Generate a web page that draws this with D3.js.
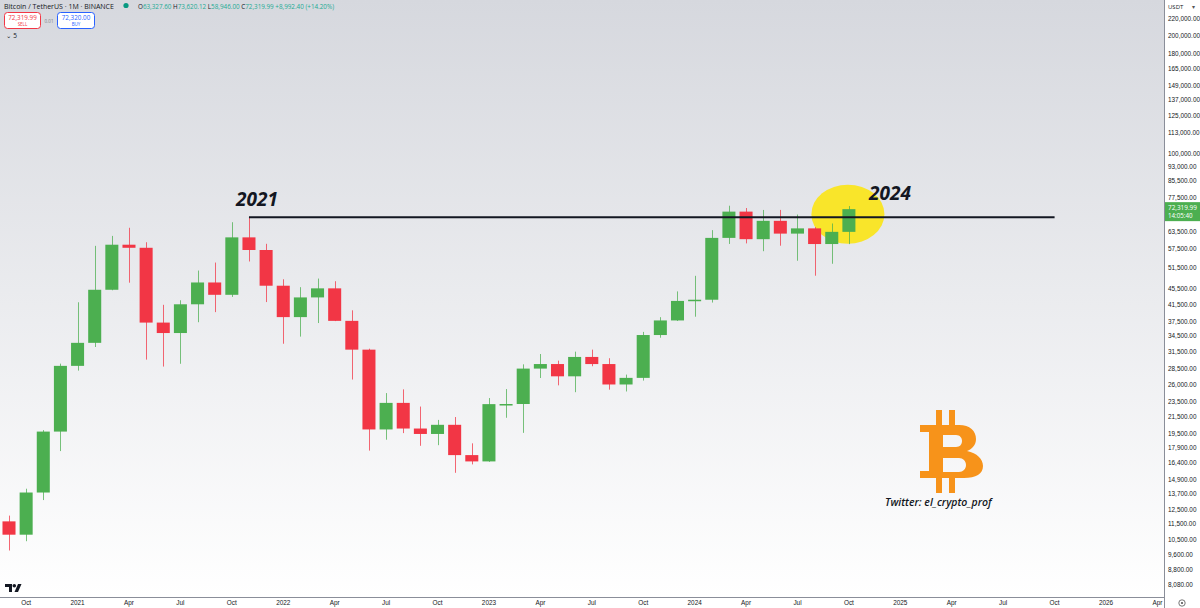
<!DOCTYPE html>
<html lang="en">
<head>
<meta charset="UTF-8">
<title>Bitcoin / TetherUS 1M</title>
<script src="https://d3js.org/d3.v7.min.js"></script>
<style>
  body { margin: 0; padding: 0; background: #fff; }
  svg { display: block; font-family: "Open Sans", "DejaVu Sans", sans-serif; }
  .axis text { fill: #131722; font-size: 6.4px; }
  .axis path, .axis line { display: none; }
</style>
</head>
<body>
<script>
// monthly candles, Sep 2020 .. Oct 2024
var firstMonth = new Date(2020, 8, 1);
var opens  = [11650, 10777, 13791, 19695, 28923, 33092, 45135, 58740, 57694, 37253, 35045, 41461, 47100, 43824, 61318, 56950,
              46216, 38466, 43160, 45510, 37630, 31800, 19942, 23293, 20050, 19423, 20490, 17164,
              16542, 23125, 23141, 28465, 29233, 27210, 30472, 29232, 25940, 26962, 34639, 37724,
              42283, 42580, 61130, 71280, 60672, 67540, 62678, 64628, 58974, 63327];
var highs  = [12050, 14100, 19863, 29300, 41950, 58352, 61844, 64854, 59592, 41330, 42448, 50500, 52920, 67000, 69000, 59053,
              47990, 45821, 48189, 47444, 40023, 31982, 24668, 25211, 22799, 21085, 21446, 18387,
              23960, 25250, 29184, 31000, 29820, 31431, 31804, 30244, 27483, 35280, 38450, 44700,
              48970, 63969, 73777, 72797, 71980, 71997, 70079, 65100, 66498, 73620];
var lows   = [9825, 10374, 13195, 17572, 28130, 32296, 45000, 47044, 30000, 28805, 29278, 37332, 39600, 43283, 53256, 42000,
              32917, 34322, 37155, 37578, 26700, 17622, 18781, 19520, 18125, 18190, 15476, 16256,
              16499, 21351, 19549, 26942, 25811, 24797, 28861, 25166, 24901, 26538, 34097, 37600,
              38555, 41884, 59005, 59191, 56552, 58402, 53485, 49000, 52550, 58946];
var closes = [10777, 13791, 19695, 28923, 33092, 45135, 58740, 57694, 37253, 35045, 41461, 47100, 43824, 61318, 56950, 46216,
              38466, 43160, 45510, 37630, 31800, 19942, 23293, 20050, 19423, 20490, 17164, 16542,
              23125, 23141, 28465, 29233, 27210, 30472, 29232, 25940, 26962, 34639, 37724, 42283,
              42580, 61130, 71280, 60672, 67540, 62678, 64628, 58974, 63327, 72320];
var totalMonths = 68; // Sep 2020 .. Apr 2026 on the time axis
var priceTicks = [220000, 200000, 180000, 165000, 149000, 137000, 125000, 113000, 100000, 93000, 85500, 77500,
                  63500, 57500, 51500, 45500, 41500, 37500, 34500, 31500, 28500, 26000, 23500, 21500, 19500,
                  17900, 16400, 14900, 13700, 12500, 11500, 10500, 9600, 8800, 8080];
var monthNames = ["Jan", "Feb", "Mar", "Apr", "May", "Jun", "Jul", "Aug", "Sep", "Oct", "Nov", "Dec"];
var resistance = 69000;      // Nov 2021 high
var lastPrice = 72319.99;

var width = 1200, height = 608,
    plotW = 1164, plotH = 597;

var months = d3.range(totalMonths).map(function (i) { return d3.timeMonth.offset(firstMonth, i); });
var key = d3.timeFormat("%Y-%m");

var candles = opens.map(function (o, i) {
  return { date: months[i], open: o, high: highs[i], low: lows[i], close: closes[i] };
});

var x = d3.scaleBand()
  .domain(months.map(key))
  .range([0.43, 1166])
  .paddingInner(0.24)
  .paddingOuter(0.12);

var y = d3.scaleLog()
  .domain([7530, 245700])
  .range([plotH - 1, 0]);

var svg = d3.select("body").append("svg")
  .attr("width", width)
  .attr("height", height);

var defs = svg.append("defs");
var grad = defs.append("linearGradient").attr("id", "bg").attr("x1", 0).attr("y1", 0).attr("x2", 0).attr("y2", 1);
grad.append("stop").attr("offset", "0%").attr("stop-color", "#d6d8de");
grad.append("stop").attr("offset", "100%").attr("stop-color", "#ffffff");

svg.append("rect").attr("width", width).attr("height", height).attr("fill", "#fff");
svg.append("rect").attr("width", plotW).attr("height", plotH).attr("fill", "url(#bg)");

// highlight around the current candle
var cx = x(key(months[49])) + x.bandwidth() / 2;
svg.append("ellipse")
  .attr("cx", cx - 1).attr("cy", y(lastPrice) + 5)
  .attr("rx", 36.5).attr("ry", 29.5)
  .attr("fill", "#f9e52a");

// candles
var up = "#4caf50", down = "#f23645";
var g = svg.append("g");
var c = g.selectAll("g.candle").data(candles).enter().append("g").attr("class", "candle");
c.append("line")
  .attr("x1", function (d) { return Math.round(x(key(d.date)) + x.bandwidth() / 2) + 0.5; })
  .attr("x2", function (d) { return Math.round(x(key(d.date)) + x.bandwidth() / 2) + 0.5; })
  .attr("y1", function (d) { return y(d.high); })
  .attr("y2", function (d) { return y(d.low); })
  .attr("stroke", function (d) { return d.close >= d.open ? up : down; })
  .attr("stroke-opacity", 0.75)
  .attr("stroke-width", 1);
c.append("rect")
  .attr("x", function (d) { return x(key(d.date)); })
  .attr("width", x.bandwidth())
  .attr("y", function (d) { return y(Math.max(d.open, d.close)); })
  .attr("height", function (d) { return Math.max(1.5, Math.abs(y(d.open) - y(d.close))); })
  .attr("fill", function (d) { return d.close >= d.open ? up : down; });

// horizontal resistance line from the 2021 top
svg.append("line")
  .attr("x1", x(key(months[14])) + x.bandwidth() / 2)
  .attr("x2", x(key(months[61])) + x.bandwidth() / 2)
  .attr("y1", y(resistance)).attr("y2", y(resistance))
  .attr("stroke", "#131722").attr("stroke-width", 2);

svg.append("text").attr("x", 236).attr("y", 206)
  .attr("font-size", 19).attr("font-weight", 700).attr("font-style", "italic")
  .attr("fill", "#131722").text("2021");
svg.append("text").attr("x", 869).attr("y", 200)
  .attr("font-size", 19).attr("font-weight", 700).attr("font-style", "italic")
  .attr("fill", "#131722").text("2024");

// bitcoin logo
var logo = svg.append("g").attr("transform", "translate(920,410)").attr("fill", "#f7931a");
logo.append("path")
  .attr("fill-rule", "evenodd")
  .attr("d", "M0,15 H39 C50,15 56,21 56,29 C56,35 52,39 47,41 C57,43 63,49 63,56 C63,64 56,68 44,68 H0 V61 H9 V22 H0 Z " +
             "M23,25 H36 C40,25 42,28 42,31 C42,34 40,37 36,37 H23 Z " +
             "M23,48 H39 C43,48 46,51 46,55 C46,59 43,62 39,62 H23 Z");
[[16, 0], [29, 0], [16, 67], [29, 67]].forEach(function (p) {
  logo.append("rect").attr("x", p[0]).attr("y", p[1]).attr("width", 6).attr("height", 16);
});
svg.append("text").attr("x", 885).attr("y", 506)
  .attr("font-size", 10.5).attr("font-weight", 600).attr("font-style", "italic")
  .attr("fill", "#131722").text("Twitter: el_crypto_prof");

// axes
svg.append("rect").attr("x", plotW).attr("y", 0).attr("width", width - plotW).attr("height", height).attr("fill", "#fff");
svg.append("rect").attr("x", 0).attr("y", plotH).attr("width", width).attr("height", height - plotH).attr("fill", "#fff");
svg.append("line").attr("x1", plotW + 0.5).attr("x2", plotW + 0.5).attr("y1", 0).attr("y2", height).attr("stroke", "#8a8e99");
svg.append("line").attr("x1", 0).attr("x2", plotW).attr("y1", plotH + 0.5).attr("y2", plotH + 0.5).attr("stroke", "#8a8e99");

var yAxis = d3.axisRight(y).tickValues(priceTicks).tickSize(0).tickPadding(4)
  .tickFormat(d3.format(",.2f"));
svg.append("g").attr("class", "axis").attr("transform", "translate(" + plotW + ",0)").call(yAxis);

var quarterKeys = months.filter(function (m) { return m.getMonth() % 3 === 0; }).map(key);
var xAxis = d3.axisBottom(x).tickValues(quarterKeys).tickSize(0).tickPadding(3)
  .tickFormat(function (k) {
    var p = k.split("-");
    return p[1] === "01" ? p[0] : monthNames[+p[1] - 1];
  });
svg.append("g").attr("class", "axis").attr("transform", "translate(0," + plotH + ")").call(xAxis);

// current price label
svg.append("rect").attr("x", plotW + 1).attr("y", y(lastPrice) - 7).attr("width", 35).attr("height", 19).attr("fill", up);
svg.append("text").attr("x", plotW + 4).attr("y", y(lastPrice) + 1).attr("font-size", 6.4).attr("fill", "#fff")
  .text(d3.format(",.2f")(lastPrice));
svg.append("text").attr("x", plotW + 4).attr("y", y(lastPrice) + 9).attr("font-size", 6.2).attr("fill", "#fff")
  .text("14:05:40");

svg.append("text").attr("x", 1168).attr("y", 9).attr("font-size", 6).attr("fill", "#131722").text("USDT");
svg.append("text").attr("x", 1192).attr("y", 9).attr("font-size", 6).attr("fill", "#555").text("▾");
svg.append("circle").attr("cx", 1182).attr("cy", 603).attr("r", 3.2).attr("fill", "none").attr("stroke", "#555").attr("stroke-width", 0.8);
svg.append("circle").attr("cx", 1182).attr("cy", 603).attr("r", 1.1).attr("fill", "#555");

// TradingView mark
svg.append("path").attr("fill", "#131722")
  .attr("d", "M5,584 H12 V592 H9 V587 H5 Z M14.5,592 L18,584 H21.5 L18,592 Z");
svg.append("circle").attr("cx", 14.3).attr("cy", 585.8).attr("r", 1.8).attr("fill", "#131722");

// header
var head = svg.append("g");
head.append("text").attr("x", 4).attr("y", 8.5).attr("font-size", 7).attr("fill", "#131722").text("Bitcoin / TetherUS · 1M · BINANCE");
head.append("circle").attr("cx", 126).attr("cy", 5.5).attr("r", 2.6).attr("fill", "#089981");
var ohlc = head.append("text").attr("x", 138).attr("y", 8.5).attr("font-size", 6.3);
[["O", "63,327.60 "], ["H", "73,620.12 "], ["L", "58,946.00 "], ["C", "72,319.99 +8,992.40 (+14.20%)"]].forEach(function (p) {
  ohlc.append("tspan").attr("fill", "#131722").text(p[0]);
  ohlc.append("tspan").attr("fill", "#22ab94").text(p[1]);
});

head.append("rect").attr("x", 4.5).attr("y", 12.5).attr("width", 36).attr("height", 16).attr("rx", 3)
  .attr("fill", "#fff").attr("stroke", "#f23645");
head.append("text").attr("x", 22.5).attr("y", 19.5).attr("text-anchor", "middle").attr("font-size", 6.3).attr("fill", "#f23645").text("72,319.99");
head.append("text").attr("x", 22.5).attr("y", 26).attr("text-anchor", "middle").attr("font-size", 4.5).attr("fill", "#f23645").text("SELL");
head.append("text").attr("x", 49).attr("y", 22.5).attr("text-anchor", "middle").attr("font-size", 4.5).attr("fill", "#787b86").text("0.01");
head.append("rect").attr("x", 57.5).attr("y", 12.5).attr("width", 37).attr("height", 16).attr("rx", 3)
  .attr("fill", "#fff").attr("stroke", "#2962ff");
head.append("text").attr("x", 76).attr("y", 19.5).attr("text-anchor", "middle").attr("font-size", 6.3).attr("fill", "#2962ff").text("72,320.00");
head.append("text").attr("x", 76).attr("y", 26).attr("text-anchor", "middle").attr("font-size", 4.5).attr("fill", "#2962ff").text("BUY");
head.append("text").attr("x", 6).attr("y", 38).attr("font-size", 6.5).attr("fill", "#131722").text("⌄ 5");
</script>
</body>
</html>
